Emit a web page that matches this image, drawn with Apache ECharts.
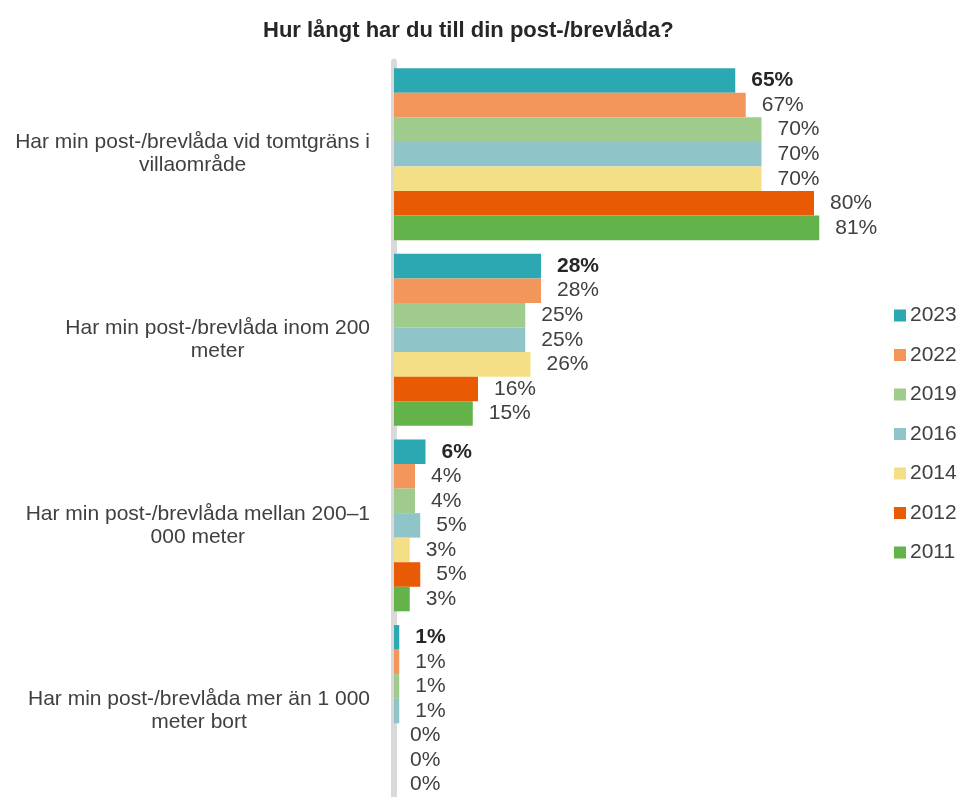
<!DOCTYPE html>
<html>
<head>
<meta charset="utf-8">
<script src="https://cdn.jsdelivr.net/npm/echarts@6/dist/echarts.min.js"></script>
<style>
  html, body { margin: 0; padding: 0; background: #ffffff; overflow: hidden; }
  #chart { width: 959px; height: 805px; }
</style>
</head>
<body>
<div id="chart"></div>
<script>
// Survey answers: distance to the mailbox, share of respondents per year
const categories = [
  'Har min post-/brevlåda vid tomtgräns i\nvillaområde',
  'Har min post-/brevlåda inom 200\nmeter',
  'Har min post-/brevlåda mellan 200–1\n000 meter',
  'Har min post-/brevlåda mer än 1 000\nmeter bort'
];
const years = ['2023', '2022', '2019', '2016', '2014', '2012', '2011'];
const v2023 = [65, 28, 6, 1];
const v2022 = [67, 28, 4, 1];
const v2019 = [70, 25, 4, 1];
const v2016 = [70, 25, 5, 1];
const v2014 = [70, 26, 3, 0];
const v2012 = [80, 16, 5, 0];
const v2011 = [81, 15, 3, 0];

const valuesByYear = [v2023, v2022, v2019, v2016, v2014, v2012, v2011];
const colors = ['#2ba8b2', '#f2965c', '#9fcb8d', '#8fc5c9', '#f5df86', '#e85a04', '#63b34a'];
const FONT = '"Liberation Sans", Arial, sans-serif';

const series = years.map((y, i) => ({
  name: y,
  type: 'bar',
  data: valuesByYear[i],
  barGap: '0%',
  barCategoryGap: '7.4%',
  itemStyle: { color: colors[i] },
  label: {
    show: true,
    position: 'right',
    distance: 16,
    formatter: '{c}%',
    fontFamily: FONT,
    fontSize: 21,
    fontWeight: i === 0 ? 'bold' : 'normal',
    color: i === 0 ? '#262626' : '#404040'
  }
}));

// The plot runs slightly past the bottom edge of the visible page
const chart = echarts.init(document.getElementById('chart'), null, { renderer: 'canvas' });
chart.setOption({
  animation: false,
  backgroundColor: '#ffffff',
  title: {
    text: 'Hur långt har du till din post-/brevlåda?',
    left: 263,
    top: 20,
    padding: 0,
    textStyle: { fontFamily: FONT, fontSize: 22, fontWeight: 'bold', color: '#262626' }
  },
  legend: {
    orient: 'vertical',
    left: 894,
    top: 305,
    padding: 0,
    icon: 'rect',
    itemWidth: 12,
    itemHeight: 12,
    itemGap: 18.5,
    textStyle: { fontFamily: FONT, fontSize: 21, color: '#404040', lineHeight: 20, padding: [0, 0, 0, -1] },
    data: years
  },
  grid: { left: 394, width: 525, top: 61.4, height: 742.4, containLabel: false },
  xAxis: {
    type: 'value',
    min: 0,
    max: 100,
    show: false
  },
  yAxis: {
    type: 'category',
    inverse: true,
    data: categories,
    offset: 4,
    axisLine: { show: true, lineStyle: { color: '#d9d9d9', width: 6 } },
    axisTick: { show: false },
    splitLine: { show: false },
    axisLabel: {
      margin: 20,
      align: 'right',
      formatter: (v) => v.split('\n').map(s => '{c|' + s + '}').join('\n'),
      rich: {
        c: { align: 'center', fontFamily: FONT, fontSize: 21, color: '#404040', lineHeight: 23 }
      }
    }
  },
  series: series
});
</script>
</body>
</html>
